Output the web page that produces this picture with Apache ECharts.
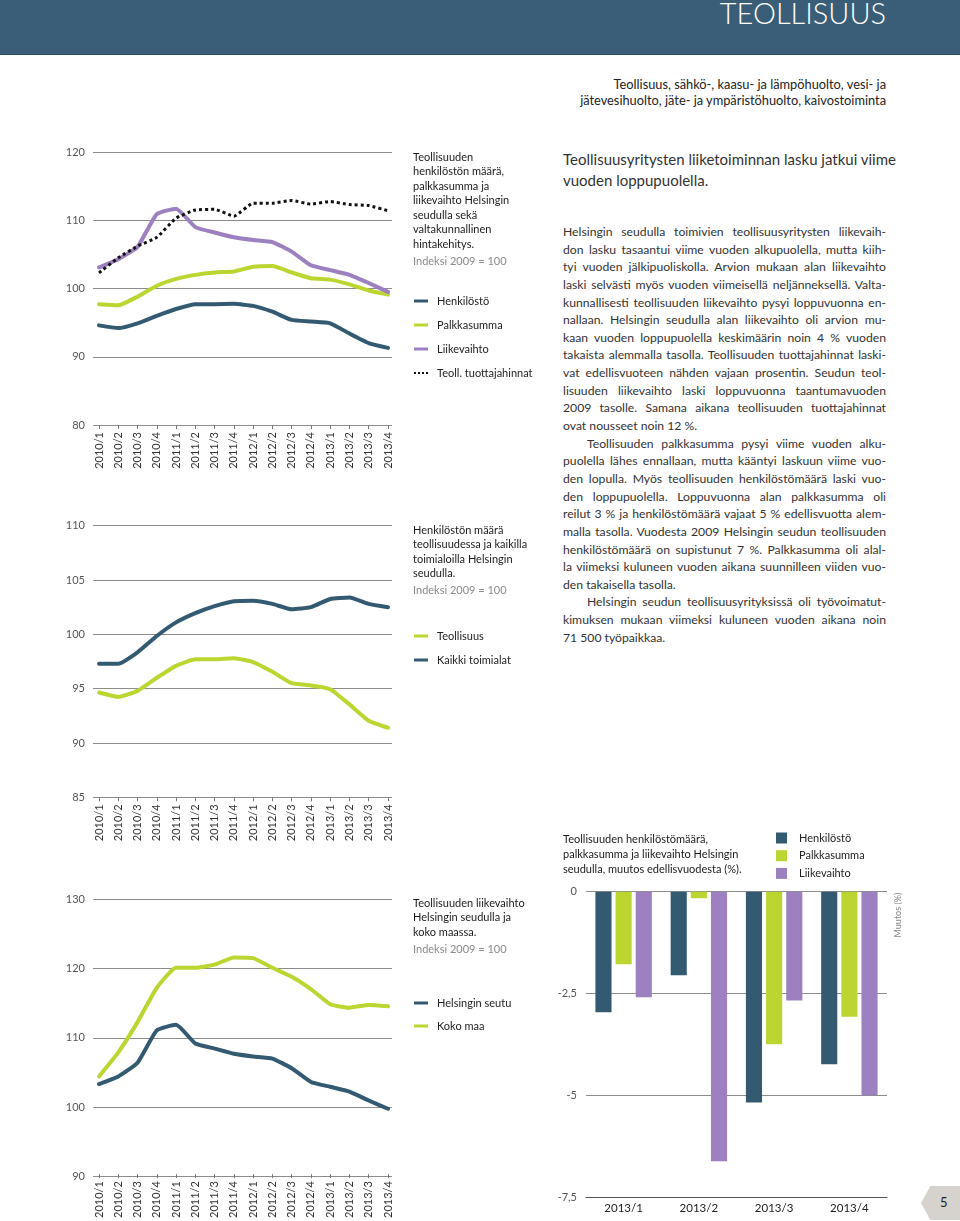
<!DOCTYPE html>
<html><head><meta charset="utf-8">
<script src="https://cdn.jsdelivr.net/npm/echarts@6/dist/echarts.min.js"></script>
<style>
body{margin:0;background:#fff;}
#page{position:relative;width:960px;height:1221px;background:#fff;overflow:hidden;font-family:Lato,"Noto Sans",sans-serif;color:#222;}
#hdr{position:absolute;left:0;top:0;width:960px;height:54px;background:#3a5e77;border-bottom:1px solid #2e4d62;}
#hdr .t{position:absolute;right:74px;top:-5px;font-size:29px;font-weight:300;color:#fff;letter-spacing:0;}
#sub{position:absolute;right:74px;top:77px;text-align:right;font-size:12.8px;line-height:15.5px;color:#222;}
.ch{position:absolute;}
#txt{position:absolute;left:563px;top:149px;width:323px;color:#333;}
#txt .h{font-size:15px;line-height:21px;color:#333;white-space:nowrap;text-align:justify;text-align-last:justify;}
#txt .h.e{text-align-last:left;}
#body{position:absolute;left:0;top:74px;width:323px;font-size:12.2px;}
.l{height:17.65px;line-height:17.65px;white-space:nowrap;text-align:justify;text-align-last:justify;}
.l.e{text-align-last:left;}
.l.i{padding-left:24px;}
#pg{position:absolute;left:921px;top:1186px;width:39px;height:34px;background:#d6d2cd;clip-path:polygon(0 50%,24% 0,100% 0,100% 100%,24% 100%);}
#pg span{position:absolute;left:19px;top:8px;font-size:13px;color:#222;}
</style></head><body>
<div id="page">
  <div id="hdr"><div class="t">TEOLLISUUS</div></div>
  <div id="sub">Teollisuus, sähkö-, kaasu- ja lämpöhuolto, vesi- ja<br>jätevesihuolto, jäte- ja ympäristöhuolto, kaivostoiminta</div>
  <div id="c1" class="ch" style="left:0;top:130px;width:555px;height:360px;"></div>
  <div id="c2" class="ch" style="left:0;top:500px;width:555px;height:360px;"></div>
  <div id="c3" class="ch" style="left:0;top:870px;width:555px;height:351px;"></div>
  <div id="c4" class="ch" style="left:540px;top:820px;width:370px;height:401px;"></div>
  <div id="txt">
    <div class="h">Teollisuusyritysten liiketoiminnan lasku jatkui viime</div>
    <div class="h e">vuoden loppupuolella.</div>
    <div id="body">
      <div class="l">Helsingin seudulla toimivien teollisuusyritysten liikevaih-</div>
      <div class="l">don lasku tasaantui viime vuoden alkupuolella, mutta kiih-</div>
      <div class="l">tyi vuoden jälkipuoliskolla. Arvion mukaan alan liikevaihto</div>
      <div class="l">laski selvästi myös vuoden viimeisellä neljänneksellä. Valta-</div>
      <div class="l">kunnallisesti teollisuuden liikevaihto pysyi loppuvuonna en-</div>
      <div class="l">nallaan. Helsingin seudulla alan liikevaihto oli arvion mu-</div>
      <div class="l">kaan vuoden loppupuolella keskimäärin noin 4 % vuoden</div>
      <div class="l">takaista alemmalla tasolla. Teollisuuden tuottajahinnat laski-</div>
      <div class="l">vat edellisvuoteen nähden vajaan prosentin. Seudun teol-</div>
      <div class="l">lisuuden liikevaihto laski loppuvuonna taantumavuoden</div>
      <div class="l">2009 tasolle. Samana aikana teollisuuden tuottajahinnat</div>
      <div class="l e">ovat nousseet noin 12 %.</div>
      <div class="l i">Teollisuuden palkkasumma pysyi viime vuoden alku-</div>
      <div class="l">puolella lähes ennallaan, mutta kääntyi laskuun viime vuo-</div>
      <div class="l">den lopulla. Myös teollisuuden henkilöstömäärä laski vuo-</div>
      <div class="l">den loppupuolella. Loppuvuonna alan palkkasumma oli</div>
      <div class="l">reilut 3 % ja henkilöstömäärä vajaat 5 % edellisvuotta alem-</div>
      <div class="l">malla tasolla. Vuodesta 2009 Helsingin seudun teollisuuden</div>
      <div class="l">henkilöstömäärä on supistunut 7 %. Palkkasumma oli alal-</div>
      <div class="l">la viimeksi kuluneen vuoden aikana suunnilleen viiden vuo-</div>
      <div class="l e">den takaisella tasolla.</div>
      <div class="l i">Helsingin seudun teollisuusyrityksissä oli työvoimatut-</div>
      <div class="l">kimuksen mukaan viimeksi kuluneen vuoden aikana noin</div>
      <div class="l e">71 500 työpaikkaa.</div>
    </div>
  </div>
  <div id="pg"><span>5</span></div>
</div>
<script>
// ---- data ----
const quarters = ['2010/1','2010/2','2010/3','2010/4','2011/1','2011/2','2011/3','2011/4','2012/1','2012/2','2012/3','2012/4','2013/1','2013/2','2013/3','2013/4'];
// Chart 1: Teollisuuden henkilöstö, palkkasumma, liikevaihto, tuottajahinnat (Indeksi 2009 = 100)
const henkilosto     = [94.6,94.2,94.9,96.0,97.0,97.7,97.7,97.75,97.45,96.6,95.4,95.15,94.9,93.4,92.0,91.3];
const palkkasumma    = [97.7,97.55,98.8,100.4,101.4,102.0,102.35,102.5,103.2,103.3,102.35,101.5,101.3,100.6,99.7,99.1];
const liikevaihto    = [103.1,104.3,106.1,110.9,111.7,109.0,108.2,107.5,107.1,106.8,105.4,103.4,102.7,102.0,100.8,99.5];
const tuottajahinnat = [102.3,104.5,106.2,107.5,110.3,111.5,111.6,110.6,112.5,112.5,112.9,112.35,112.75,112.3,112.15,111.4];
// Chart 2: Henkilöstön määrä
const teollisuus      = [94.65,94.25,94.8,96.0,97.1,97.7,97.7,97.8,97.45,96.55,95.5,95.3,94.95,93.55,92.05,91.4];
const kaikkiToimialat = [97.3,97.3,98.35,99.85,101.1,101.95,102.6,103.05,103.1,102.8,102.3,102.5,103.25,103.4,102.8,102.5];
// Chart 3: Liikevaihto
const helsinginSeutu = [103.1,104.2,106.2,110.9,111.7,109.0,108.25,107.5,107.1,106.8,105.4,103.4,102.7,102.0,100.7,99.5];
const kokoMaa        = [104.2,107.7,112.1,117.1,120.0,120.0,120.45,121.5,121.4,120.0,118.7,116.9,114.7,114.2,114.6,114.4];
// Chart 4: muutos edellisvuodesta (%)
const barQuarters = ['2013/1','2013/2','2013/3','2013/4'];
const barHenk = [-2.96,-2.05,-5.18,-4.24];
const barPalk = [-1.78,-0.16,-3.75,-3.07];
const barLiik = [-2.59,-6.62,-2.67,-5.0];

const C_DARK = '#345a72', C_GREEN = '#bcd531', C_PURPLE = '#9c80c0', C_DOT = '#111111';
const FONT = 'Lato, "Noto Sans", sans-serif';
const LINE_ICON = 'path://M0,0h14v3h-14z';
const DOT_ICON = 'path://M0,0h2v2h-2zM4,0h2v2h-2zM8,0h2v2h-2zM12,0h2v2h-2z';

function lineChart(el, cfg) {
  const chart = echarts.init(document.getElementById(el), null, {renderer: 'canvas'});
  const series = cfg.series.map(s => ({
    type: 'line', name: s.name, data: s.data, xAxisIndex: 1, yAxisIndex: 1,
    symbol: 'none', smooth: 0.15, z: s.z || 2,
    itemStyle: {color: s.color},
    lineStyle: {color: s.color, width: s.dotted ? 3 : 4, type: s.dotted ? 'dotted' : 'solid', cap: s.dotted ? 'butt' : 'round', join: 'round'}
  }));
  chart.setOption({
    animation: false,
    textStyle: {fontFamily: FONT},
    title: {
      text: cfg.title, subtext: 'Indeksi 2009 = 100', left: 413, top: cfg.titleTop, padding: 0, itemGap: 2.5,
      textStyle: {fontSize: 11, lineHeight: 14.5, fontWeight: 'normal', color: '#1a1a1a', fontFamily: FONT},
      subtextStyle: {fontSize: 11, lineHeight: 14.5, color: '#8a8a8a', fontFamily: FONT}
    },
    legend: {
      orient: 'vertical', left: 414, top: cfg.legendTop, itemWidth: 14, itemHeight: 14, itemGap: cfg.legendGap,
      padding: 0, selectedMode: false,
      textStyle: {fontSize: 11, lineHeight: 14, color: '#222', padding: [0,0,0,4], fontFamily: FONT},
      data: cfg.legend.map(n => ({name: n, icon: (cfg.series.find(s => s.name === n).dotted ? DOT_ICON : LINE_ICON)}))
    },
    grid: [
      {left: 93, top: cfg.top, width: 299, height: cfg.height},
      {left: 99, top: cfg.top, width: 289, height: cfg.height}
    ],
    xAxis: [
      {gridIndex: 0, type: 'value', min: 0, max: 1, show: false},
      {gridIndex: 1, type: 'category', data: quarters, boundaryGap: false,
       axisLine: {show: false},
       axisTick: {show: true, length: 4, lineStyle: {color: '#777'}},
       axisLabel: {rotate: 90, fontSize: 11, color: '#333', margin: 7, fontFamily: FONT}}
    ],
    yAxis: [
      {gridIndex: 0, type: 'value', min: cfg.min, max: cfg.max, interval: cfg.interval,
       axisLine: {show: false}, axisTick: {show: false},
       axisLabel: {fontSize: 11, color: '#555', margin: 8, fontFamily: FONT},
       splitLine: {show: true, lineStyle: {color: '#8c8c8c', width: 1}}},
      {gridIndex: 1, type: 'value', min: cfg.min, max: cfg.max, interval: cfg.interval, show: false, splitLine: {show: false}}
    ],
    series: series
  });
}

lineChart('c1', {
  top: 22, height: 273, min: 80, max: 120, interval: 10,
  title: 'Teollisuuden\nhenkilöstön määrä,\npalkkasumma ja\nliikevaihto Helsingin\nseudulla sekä\nvaltakunnallinen\nhintakehitys.',
  titleTop: 19.75, legendTop: 164, legendGap: 10,
  legend: ['Henkilöstö','Palkkasumma','Liikevaihto','Teoll. tuottajahinnat'],
  series: [
    {name: 'Henkilöstö', data: henkilosto, color: C_DARK},
    {name: 'Palkkasumma', data: palkkasumma, color: C_GREEN},
    {name: 'Liikevaihto', data: liikevaihto, color: C_PURPLE},
    {name: 'Teoll. tuottajahinnat', data: tuottajahinnat, color: C_DOT, dotted: true, z: 3}
  ]
});

lineChart('c2', {
  top: 25.7, height: 271.6, min: 85, max: 110, interval: 5,
  title: 'Henkilöstön määrä\nteollisuudessa ja kaikilla\ntoimialoilla Helsingin\nseudulla.',
  titleTop: 22.75, legendTop: 129, legendGap: 10,
  legend: ['Teollisuus','Kaikki toimialat'],
  series: [
    {name: 'Kaikki toimialat', data: kaikkiToimialat, color: C_DARK},
    {name: 'Teollisuus', data: teollisuus, color: C_GREEN}
  ]
});

lineChart('c3', {
  top: 29, height: 277.7, min: 90, max: 130, interval: 10,
  title: 'Teollisuuden liikevaihto\nHelsingin seudulla ja\nkoko maassa.',
  titleTop: 25.75, legendTop: 126, legendGap: 9,
  legend: ['Helsingin seutu','Koko maa'],
  series: [
    {name: 'Koko maa', data: kokoMaa, color: C_GREEN},
    {name: 'Helsingin seutu', data: helsinginSeutu, color: C_DARK}
  ]
});

(function () {
  const chart = echarts.init(document.getElementById('c4'), null, {renderer: 'canvas'});
  const bar = (name, data, color) => ({type: 'bar', name, data, itemStyle: {color}, barGap: '25%', barCategoryGap: '25%'});
  chart.setOption({
    animation: false,
    textStyle: {fontFamily: FONT},
    title: {
      text: 'Teollisuuden henkilöstömäärä,\npalkkasumma ja liikevaihto Helsingin\nseudulla, muutos edellisvuodesta (%).',
      left: 23, top: 11.5, padding: 0,
      textStyle: {fontSize: 11, lineHeight: 15, fontWeight: 'normal', color: '#1a1a1a', fontFamily: FONT}
    },
    legend: {
      orient: 'vertical', left: 236, top: 12.5, itemWidth: 11, itemHeight: 11, itemGap: 6.7, icon: 'rect',
      padding: 0, selectedMode: false,
      textStyle: {fontSize: 11, lineHeight: 11, color: '#222', padding: [0,0,0,7], fontFamily: FONT},
      data: ['Henkilöstö','Palkkasumma','Liikevaihto']
    },
    grid: {left: 46, top: 71.7, width: 301, height: 305.3},
    xAxis: {type: 'category', data: barQuarters,
      axisLine: {onZero: false, lineStyle: {color: '#555', width: 1}},
      axisTick: {show: false},
      axisLabel: {fontSize: 11.5, color: '#222', margin: 5, fontFamily: FONT}},
    yAxis: {type: 'value', min: -7.5, max: 0, interval: 2.5,
      axisLine: {show: false}, axisTick: {show: false},
      axisLabel: {fontSize: 11, color: '#555', margin: 9, fontFamily: FONT,
        formatter: v => String(v).replace('.', ',')},
      splitLine: {lineStyle: {color: '#8c8c8c', width: 1}}},
    graphic: [{type: 'text', x: 358, y: 95, rotation: Math.PI / 2,
      style: {text: 'Muutos (%)', fontSize: 9, fill: '#888', align: 'center', verticalAlign: 'middle', fontFamily: FONT}}],
    series: [
      bar('Henkilöstö', barHenk, C_DARK),
      bar('Palkkasumma', barPalk, C_GREEN),
      bar('Liikevaihto', barLiik, C_PURPLE)
    ]
  });
})();
</script>
</body></html>
